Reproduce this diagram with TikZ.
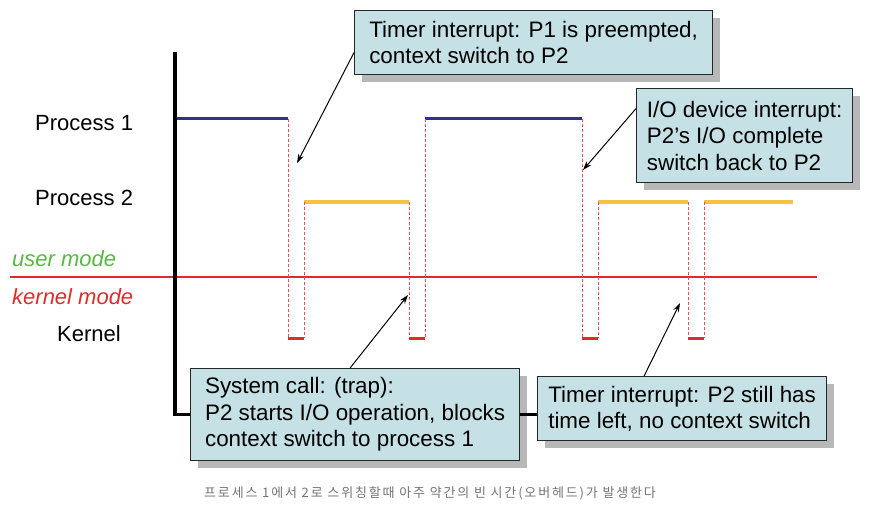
\documentclass[tikz,border=0pt]{standalone}
\usepackage{fontspec}
\setmainfont{Liberation Sans}
\newfontfamily\krfont[LetterSpace=14]{Noto Sans CJK KR}
\usepackage{tikz}
\usetikzlibrary{arrows.meta,shadows}
\definecolor{boxfill}{RGB}{197,225,229}
\definecolor{procone}{RGB}{46,49,146}
\definecolor{proctwo}{RGB}{244,196,62}
\definecolor{kernred}{RGB}{220,45,45}
\definecolor{dipred}{RGB}{232,80,90}
\definecolor{usergreen}{RGB}{88,184,68}

\begin{document}
\begin{tikzpicture}[x=1pt,y=-1pt,
			note/.style={draw=black!85,line width=1.2pt,fill=boxfill,align=left,anchor=north west,inner sep=0pt,
				font=\fontsize{22.4}{26.5}\selectfont,
				drop shadow={shadow xshift=7pt,shadow yshift=-7pt,fill=black!28,opacity=1}},
			lbl/.style={anchor=west,inner sep=0pt,font=\fontsize{22}{26}\selectfont},
			axis/.style={line width=3.2pt},
			pone/.style={procone,line width=3pt},
			ptwo/.style={proctwo,line width=4pt},
			kern/.style={kernred,line width=3pt},
			dip/.style={dipred,line width=0.9pt,dash pattern=on 3pt off 2pt},
			pointer/.style={line width=1pt,-{Stealth[length=9pt,width=6pt]}}]
			\useasboundingbox (0,0) rectangle (869,510);

			\node[lbl] (pone) at (35,123.5) {Process 1};
			\node[lbl] (ptwo) at (35,198) {Process 2};
			\node[lbl,usergreen] (umode) at (12,259) {\itshape user mode};
			\node[lbl,kernred] (kmode) at (12,296.5) {\itshape kernel mode};
			\node[lbl] (kern) at (57,333.5) {Kernel};

			\draw[kernred,line width=1.5pt] (10,277) -- (817,277);

			\draw[pone] (175,119) -- (288,119);
			\draw[pone] (425,119) -- (582,119);
			\draw[ptwo] (304,202) -- (409,202);
			\draw[ptwo] (598,202) -- (688,202);
			\draw[ptwo] (704,202) -- (793,202);

			\draw[dip] (288,119) -- (288,338);
			\draw[dip] (304,202) -- (304,338);
			\draw[dip] (409,202) -- (409,338);
			\draw[dip] (425,119) -- (425,338);
			\draw[dip] (582,119) -- (582,338);
			\draw[dip] (598,202) -- (598,338);
			\draw[dip] (688,202) -- (688,338);
			\draw[dip] (704,202) -- (704,338);
			\draw[kern] (288,338) -- (304,338);
			\draw[kern] (409,338) -- (425,338);
			\draw[kern] (582,338) -- (598,338);
			\draw[kern] (688,338) -- (704,338);

			\node[note,minimum width=358,minimum height=64] (preempt) at (354,10) {Timer interrupt: P1 is preempted,\\context switch to P2};
			\node[note,minimum width=216,minimum height=94] (iodone) at (636,88) {I/O device interrupt:\\P2's I/O complete\\switch back to P2};
			\node[note,minimum width=329,minimum height=92] (trap) at (190,368) {System call: (trap):\\P2 starts I/O operation, blocks\\context switch to process 1};
			\node[note,minimum width=289,minimum height=64] (nosw) at (537,376) {Timer interrupt: P2 still has\\time left, no context switch};

			\coordinate (axtop) at (175,52);
			\draw[axis] (axtop) |- (trap.west);
			\draw[axis] (trap.east) -- (trap.east -| nosw.west);

			\coordinate (atA) at (297,163);
			\coordinate (atC) at (583,170);
			\coordinate (atB) at (408,295);
			\coordinate (atD) at (680,303);
			\draw[pointer] ([yshift=-10pt]preempt.west) -- (atA);
			\draw[pointer] ([yshift=27pt]iodone.west) -- (atC);
			\draw[pointer] ([xshift=-5pt]trap.north) -- (atB);
			\draw[pointer] ([xshift=-38pt]nosw.north) -- (atD);

			\node[text=black!55,font=\krfont\fontsize{13}{15}\selectfont] (capt) at (430,493) {프로세스 1에서 2로 스위칭할때 아주 약간의 빈 시간(오버헤드)가 발생한다};
		\end{tikzpicture}
\end{document}
